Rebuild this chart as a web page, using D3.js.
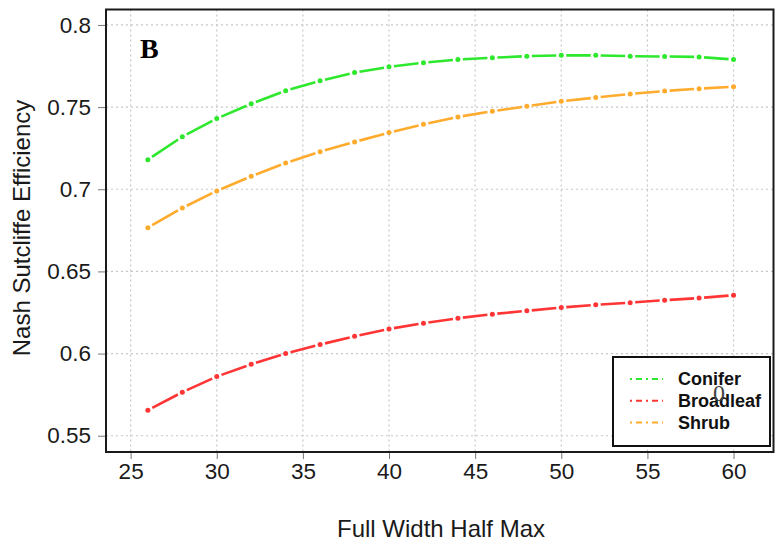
<!DOCTYPE html>
<html>
<head>
<meta charset="utf-8">
<script src="https://cdn.jsdelivr.net/npm/d3@7"></script>
<style>
  body { margin: 0; background: #fff; }
  svg { display: block; font-family: 'Liberation Sans', Arial, sans-serif; }
</style>
</head>
<body>
<div id="chart"></div>
<script>
// FWHM values where each model was evaluated
const fwhm = [26, 28, 30, 32, 34, 36, 38, 40, 42, 44, 46, 48, 50, 52, 54, 56, 58, 60];

const conifer = [0.718, 0.732, 0.743, 0.752, 0.760, 0.766, 0.771, 0.7745, 0.777, 0.779, 0.780, 0.781,
  0.7815, 0.7815, 0.781, 0.7808, 0.7805, 0.779];
const broadleaf = [0.5655, 0.5765, 0.586, 0.5935, 0.600, 0.6055, 0.6105, 0.615, 0.6185, 0.6215, 0.624,
  0.626, 0.628, 0.6297, 0.631, 0.6325, 0.6338, 0.6355];
const shrub = [0.6766, 0.6886, 0.699, 0.7079, 0.716, 0.7229, 0.7288, 0.7345, 0.7395, 0.744, 0.7475,
  0.7505, 0.7535, 0.7558, 0.758, 0.7598, 0.7612, 0.7624];

const seriesNames = ['Conifer', 'Broadleaf', 'Shrub'];
const seriesValues = [conifer, broadleaf, shrub];
const seriesColors = ['#2ee82e', '#ff3535', '#ffab2e'];

const xTicks = [25, 30, 35, 40, 45, 50, 55, 60];
const yTicks = [0.55, 0.6, 0.65, 0.7, 0.75, 0.8];
const yTickLabels = ['0.55', '0.6', '0.65', '0.7', '0.75', '0.8'];

const width = 783;
const height = 550;
const margin = { top: 9.5, right: 9.5, bottom: 98, left: 106 };
const innerW = width - margin.left - margin.right;
const innerH = height - margin.top - margin.bottom;

const svg = d3.select('#chart').append('svg').attr('width', width).attr('height', height);
const g = svg.append('g').attr('transform', `translate(${margin.left},${margin.top})`);

const x = d3.scaleLinear().domain([23.57, 62.32]).range([0, innerW]);
const y = d3.scaleLinear().domain([0.5401, 0.8094]).range([innerH, 0]);

// dotted grid
g.append('g')
  .selectAll('line')
  .data(xTicks)
  .join('line')
  .attr('x1', (d) => x(d))
  .attr('x2', (d) => x(d))
  .attr('y1', 0)
  .attr('y2', innerH)
  .attr('stroke', '#c8c8c8')
  .attr('stroke-width', 1.2)
  .attr('stroke-dasharray', '2,3');
g.append('g')
  .selectAll('line')
  .data(yTicks)
  .join('line')
  .attr('x1', 0)
  .attr('x2', innerW)
  .attr('y1', (d) => y(d))
  .attr('y2', (d) => y(d))
  .attr('stroke', '#c8c8c8')
  .attr('stroke-width', 1.2)
  .attr('stroke-dasharray', '2,3');

// axes
const xAxis = d3.axisBottom(x).tickValues(xTicks).tickSize(7).tickPadding(4).tickFormat(d3.format('d'));
const gx = g.append('g').attr('transform', `translate(0,${innerH})`).call(xAxis);
gx.select('.domain').remove();
gx.selectAll('.tick line').attr('stroke', '#777');
gx.selectAll('.tick text').attr('fill', '#1a1a1a').style('font-size', '22.5px');

const yAxis = d3.axisLeft(y).tickValues(yTicks).tickSize(8).tickPadding(7)
  .tickFormat((d, i) => yTickLabels[i]);
const gy = g.append('g').call(yAxis);
gy.select('.domain').remove();
gy.selectAll('.tick line').attr('stroke', '#777');
gy.selectAll('.tick text').attr('fill', '#1a1a1a').style('font-size', '22.5px');

// series: dot at each point, dash between points
const gap = 5;
seriesValues.forEach((vals, si) => {
  const pts = fwhm.map((f, i) => [x(f), y(vals[i])]);
  const sg = g.append('g');
  sg.selectAll('line')
    .data(d3.pairs(pts))
    .join('line')
    .attr('x1', (d) => d[0][0])
    .attr('y1', (d) => d[0][1])
    .attr('x2', (d) => d[1][0])
    .attr('y2', (d) => d[1][1])
    .attr('stroke', seriesColors[si])
    .attr('stroke-width', 2.6)
    .attr('stroke-dasharray', (d) => {
      const len = Math.hypot(d[1][0] - d[0][0], d[1][1] - d[0][1]);
      return `0 ${gap} ${len - 2 * gap} ${gap}`;
    });
  sg.selectAll('circle')
    .data(pts)
    .join('circle')
    .attr('cx', (d) => d[0])
    .attr('cy', (d) => d[1])
    .attr('r', 2.5)
    .attr('fill', seriesColors[si]);
});

// plot frame
g.append('rect')
  .attr('width', innerW)
  .attr('height', innerH)
  .attr('fill', 'none')
  .attr('stroke', '#1a1a1a')
  .attr('stroke-width', 2);

// panel letter
g.append('text')
  .attr('x', 140 - margin.left)
  .attr('y', 58 - margin.top)
  .attr('font-family', "'Liberation Serif', 'Times New Roman', serif")
  .attr('font-weight', 'bold')
  .attr('font-size', 28)
  .attr('fill', '#000')
  .text('B');

// axis titles
svg.append('text')
  .attr('x', 441)
  .attr('y', 537)
  .attr('text-anchor', 'middle')
  .attr('fill', '#1a1a1a')
  .style('font-size', '24px')
  .text('Full Width Half Max');
svg.append('text')
  .attr('transform', 'translate(30,228) rotate(-90)')
  .attr('text-anchor', 'middle')
  .attr('fill', '#1a1a1a')
  .style('font-size', '24px')
  .text('Nash Sutcliffe Efficiency');

// legend
const legend = svg.append('g').attr('transform', 'translate(613,357)');
legend.append('rect')
  .attr('width', 157)
  .attr('height', 89)
  .attr('fill', '#fff')
  .attr('stroke', '#111')
  .attr('stroke-width', 2);
seriesNames.forEach((name, i) => {
  const row = legend.append('g').attr('transform', `translate(0,${22 + i * 21.8})`);
  row.append('line')
    .attr('x1', 17)
    .attr('x2', 50)
    .attr('y1', 0)
    .attr('y2', 0)
    .attr('stroke', seriesColors[i])
    .attr('stroke-width', 2)
    .attr('stroke-dasharray', '2,4,6,4');
  row.append('text')
    .attr('x', 65)
    .attr('y', 6)
    .attr('font-weight', 'bold')
    .attr('fill', '#111')
    .style('font-size', '18px')
    .text(name);
});
// stray glyph overlapping the legend in the original figure
svg.append('text')
  .attr('x', 713)
  .attr('y', 401)
  .attr('font-family', "'Liberation Serif', 'Times New Roman', serif")
  .attr('font-size', 24)
  .attr('fill', '#444')
  .text('0');
</script>
</body>
</html>
